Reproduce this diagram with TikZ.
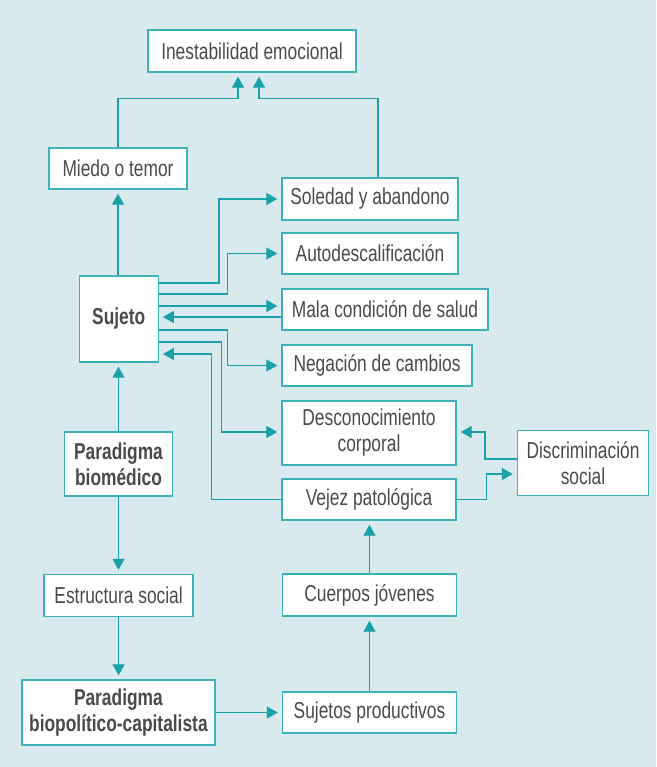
\documentclass[tikz,border=0pt]{standalone}
\usepackage{fontspec}
\setmainfont{Liberation Sans}[FakeStretch=0.755]
\usetikzlibrary{arrows.meta,calc}
\definecolor{bgc}{HTML}{D9EAEF}
\definecolor{linec}{HTML}{1AA0A8}
\definecolor{boxc}{HTML}{3DB2BA}
\definecolor{textc}{HTML}{4A4A4A}
\begin{document}
\begin{tikzpicture}[x=1pt,y=-1pt,
  box/.style={draw=boxc, line width=1.4pt, fill=white, text=textc, align=center,
    inner sep=0pt, font=\fontsize{23}{26}\selectfont},
  boldbox/.style={box, font=\fontsize{23}{26}\selectfont\bfseries},
  arr/.style={draw=linec, line width=1.3pt, -{Triangle[length=11pt,width=12pt]}, shorten >=4pt}]
\useasboundingbox (0,0) rectangle (656,767);
\fill[bgc] (0,0) rectangle (656,767);

\node[box, minimum width=208pt, minimum height=42pt] (inest) at (252,51) {Inestabilidad emocional};
\node[box, minimum width=138pt, minimum height=41pt] (miedo) at (118,168.5) {Miedo o temor};
\node[box, minimum width=176pt, minimum height=42pt] (soledad) at (370,199) {Soledad y abandono};
\node[box, minimum width=176pt, minimum height=41pt] (autodes) at (370,253.5) {Autodescalificaci\'on};
\node[box, minimum width=206pt, minimum height=41pt] (mala) at (385,309.5) {Mala condici\'on de salud};
\node[box, minimum width=190pt, minimum height=41pt] (negacion) at (377,365.5) {Negaci\'on de cambios};
\node[box, minimum width=174pt, minimum height=64pt] (descon) at (369,433) {Desconocimiento\\corporal};
\node[box, minimum width=174pt, minimum height=41pt] (vejez) at (369,499.5) {Vejez patol\'ogica};
\node[box, minimum width=131pt, minimum height=65pt] (discrim) at (583,463) {Discriminaci\'on\\social};
\node[boldbox, minimum width=79pt, minimum height=86pt] (sujeto) at (118.7,319) {Sujeto};
\node[boldbox, minimum width=108pt, minimum height=64pt] (parbio) at (118.5,464) {Paradigma\\biom\'edico};
\node[box, minimum width=149pt, minimum height=42pt] (estructura) at (118.6,595.5) {Estructura social};
\node[boldbox, minimum width=193pt, minimum height=65pt] (biopol) at (118.4,712.5) {Paradigma\\biopol\'itico-capitalista};
\node[box, minimum width=174pt, minimum height=42pt] (cuerpos) at (369.5,595) {Cuerpos j\'ovenes};
\node[box, minimum width=174pt, minimum height=41pt] (sujprod) at (369.5,712.5) {Sujetos productivos};

% to Inestabilidad
\draw[arr] (miedo.north) -- ++(0,-49) -| ([xshift=-14pt]inest.south);
\draw[arr] ([xshift=8pt]soledad.north) -- ++(0,-79) -| ([xshift=7pt]inest.south);
% Sujeto up to Miedo
\draw[arr] (sujeto.north -| miedo.south) -- (miedo.south);

% Sujeto outgoing
\draw[arr] ([yshift=36pt]sujeto.east) -- ++(60,0) |- (soledad.west);
\draw[arr] ([yshift=25pt]sujeto.east) -- ++(68.7,0) |- (autodes.west);
\coordinate (s3) at ([yshift=13pt]sujeto.east);
\draw[arr] (s3) -- (s3 -| mala.west);
\coordinate (r1) at ([yshift=2pt]sujeto.east);
\draw[arr] (r1 -| mala.west) -- (r1);
\draw[arr] ([yshift=-11pt]sujeto.east) -- ++(68.7,0) |- (negacion.west);
\draw[arr] ([yshift=-23pt]sujeto.east) -- ++(62.7,0) |- ([yshift=1pt]descon.west);
\draw[arr] (vejez.west) -- ++(-70,0) |- ([yshift=-35pt]sujeto.east);

% Discriminacion
\draw[arr] ([yshift=4pt]discrim.west) -- ++(-31.7,0) |- ([yshift=1pt]descon.east);
\draw[arr] (vejez.east) -- ++(30,0) |- ([yshift=-11pt]discrim.west);

% left column
\draw[arr] (parbio.north) -- (sujeto.south -| parbio.north);
\draw[arr] (parbio.south) -- (estructura.north -| parbio.south);
\draw[arr] (estructura.south) -- (biopol.north -| estructura.south);
\draw[arr] (biopol.east) -- (biopol.east -| sujprod.west);

% right column
\draw[arr] (sujprod.north) -- (cuerpos.south);
\draw[arr] (cuerpos.north) -- (vejez.south -| cuerpos.north);
\end{tikzpicture}
\end{document}
